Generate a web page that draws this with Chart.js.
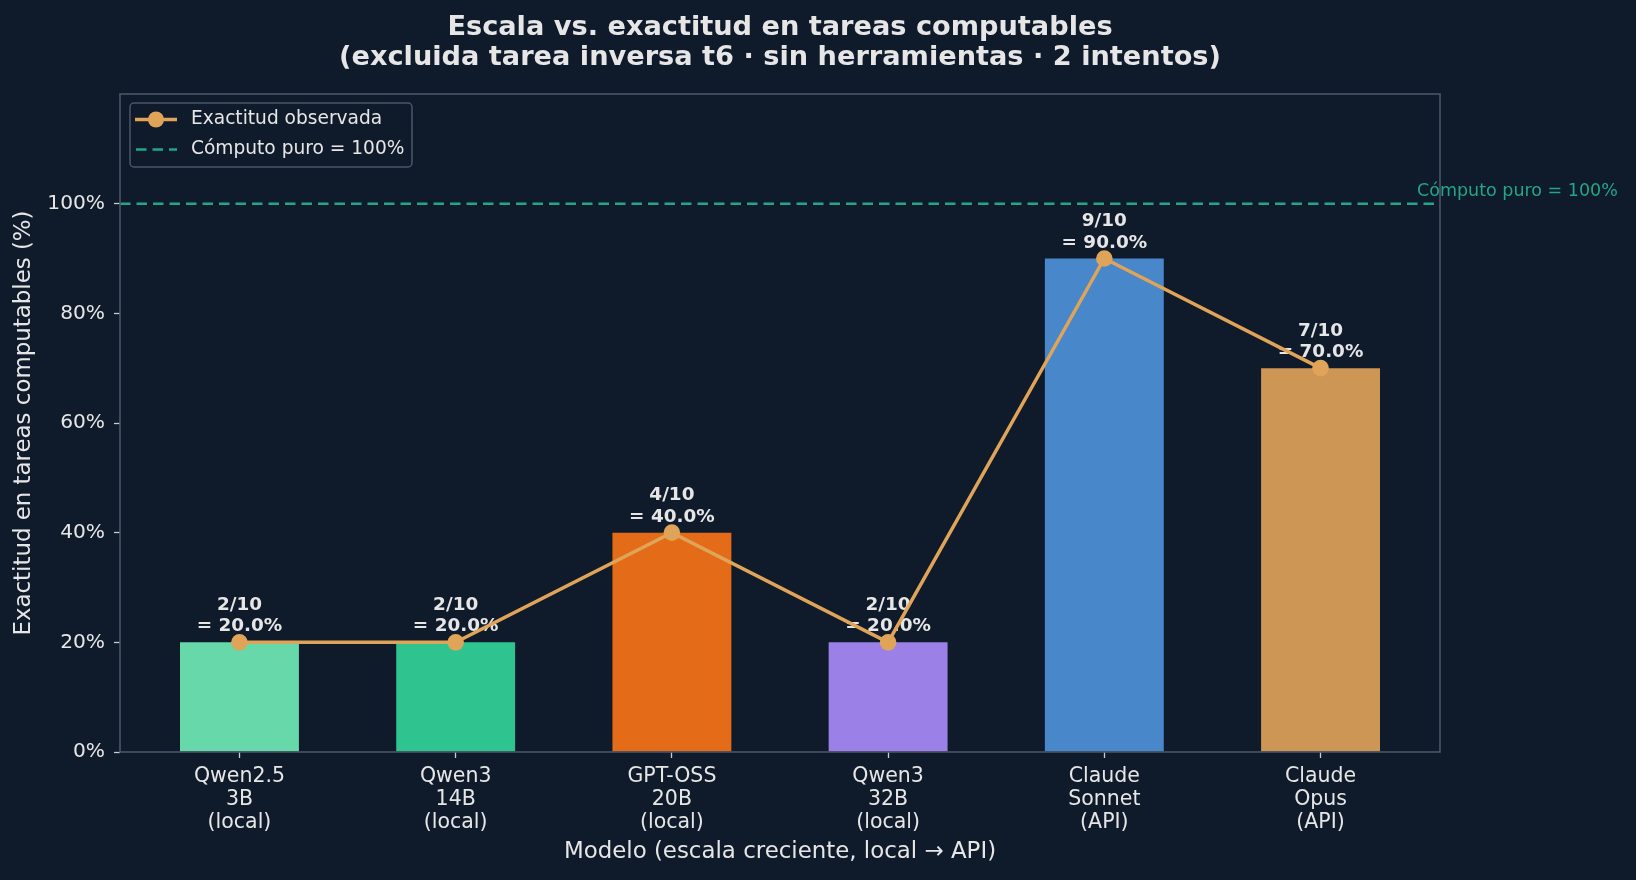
<!DOCTYPE html>
<html><head><meta charset="utf-8">
<script src="https://cdn.jsdelivr.net/npm/chart.js@4.4.1/dist/chart.umd.min.js"></script>
<style>html,body{margin:0;padding:0;background:#0f1a2b;}#wrap{width:1636px;height:880px;}</style>
</head><body><div id="wrap"><canvas id="c" width="1636" height="880"></canvas></div>
<script>
// ---- data ----
const categories = [["Qwen2.5","3B","(local)"],["Qwen3","14B","(local)"],["GPT-OSS","20B","(local)"],["Qwen3","32B","(local)"],["Claude","Sonnet","(API)"],["Claude","Opus","(API)"]];
const correctCounts = [2, 2, 4, 2, 9, 7];
const totalCounts = [10, 10, 10, 10, 10, 10];
const accuracyPct = [20, 20, 40, 20, 90, 70];
const yTickValues = [0, 20, 40, 60, 80, 100];
const referencePct = 100;
const titleLines = ["Escala vs. exactitud en tareas computables", "(excluida tarea inversa t6 · sin herramientas · 2 intentos)"];
const xAxisTitle = "Modelo (escala creciente, local → API)";
const yAxisTitle = "Exactitud en tareas computables (%)";
const lineLabel = "Exactitud observada";
const refLabel = "Cómputo puro = 100%";

// ---- style ----
const barColors = ["#66d8a9", "#2fc48f", "#e46b18", "#9b80e8", "#4787ca", "#cd9654"];
const BG = "#0f1a2b", TEXT = "#e6e6e6", SPINE = "#4b5668", LINE = "#e0a458", REF = "#22a686", TICK = "#c9cdd3";
const FONT = "'DejaVu Sans', sans-serif";
const BAR_W = 0.55;
const n = categories.length;
const xPad = 0.05 * (n - 1 + BAR_W);

const points = accuracyPct.map((v, i) => ({ x: i, y: v }));

const decor = {
  id: 'decor',
  beforeDraw(chart) {
    const c = chart.ctx;
    c.save(); c.fillStyle = BG; c.fillRect(0, 0, chart.width, chart.height); c.restore();
  },
  beforeDatasetsDraw(chart) {
    const c = chart.ctx, a = chart.chartArea, y = chart.scales.y.getPixelForValue(referencePct);
    c.save();
    c.strokeStyle = REF; c.lineWidth = 2.5; c.setLineDash([10.5, 6]);
    c.beginPath(); c.moveTo(a.left, y); c.lineTo(a.right, y); c.stroke();
    c.restore();
  },
  afterDatasetDraw(chart, args) {
    if (args.index !== 0) return;
    const c = chart.ctx, meta = chart.getDatasetMeta(0);
    c.save();
    c.fillStyle = TEXT; c.font = "bold 18.4px " + FONT; c.textAlign = 'center'; c.textBaseline = 'alphabetic';
    meta.data.forEach((el, i) => {
      c.fillText(correctCounts[i] + "/" + totalCounts[i], el.x, el.y - 32.5);
      c.fillText("= " + accuracyPct[i].toFixed(1) + "%", el.x, el.y - 11);
    });
    c.restore();
  },
  afterDraw(chart) {
    const c = chart.ctx, a = chart.chartArea;
    c.save();
    // spines
    c.strokeStyle = SPINE; c.lineWidth = 1.6;
    c.strokeRect(a.left, a.top, a.right - a.left, a.bottom - a.top);
    // reference label
    const yr = chart.scales.y.getPixelForValue(referencePct);
    c.fillStyle = REF; c.font = "17.5px " + FONT; c.textAlign = 'left'; c.textBaseline = 'alphabetic';
    c.fillText(refLabel, 1417, yr - 8);
    // title
    c.fillStyle = TEXT; c.font = "bold 27.2px " + FONT; c.textAlign = 'center';
    const cx = (a.left + a.right) / 2;
    c.fillText(titleLines[0], cx, 34.5);
    c.fillText(titleLines[1], cx, 64.5);
    // axis titles
    c.font = "22.9px " + FONT; c.textBaseline = 'middle';
    c.fillText(xAxisTitle, cx, 852);
    c.save();
    c.translate(24, (a.top + a.bottom) / 2); c.rotate(-Math.PI / 2);
    c.fillText(yAxisTitle, 0, 0);
    c.restore();
    // legend
    const lx = 130, ly = 103, lw = 282, lh = 64;
    c.beginPath(); c.roundRect(lx, ly, lw, lh, 4);
    c.fillStyle = "rgba(15,26,43,0.8)"; c.fill();
    c.strokeStyle = SPINE; c.lineWidth = 1.5; c.stroke();
    c.strokeStyle = LINE; c.lineWidth = 3.5; c.setLineDash([]);
    c.beginPath(); c.moveTo(135, 119.5); c.lineTo(177, 119.5); c.stroke();
    c.fillStyle = LINE; c.beginPath(); c.arc(156, 119.5, 8, 0, Math.PI * 2); c.fill();
    c.strokeStyle = REF; c.lineWidth = 2.5; c.setLineDash([10.5, 6]);
    c.beginPath(); c.moveTo(136, 149.5); c.lineTo(177, 149.5); c.stroke();
    c.setLineDash([]);
    c.fillStyle = TEXT; c.font = "18.6px " + FONT; c.textAlign = 'left'; c.textBaseline = 'middle';
    c.fillText(lineLabel, 191, 119.5);
    c.fillText(refLabel, 191, 149.5);
    c.restore();
  }
};

new Chart(document.getElementById('c'), {
  data: {
    datasets: [
      { type: 'bar', label: 'bars', data: points, backgroundColor: barColors, barPercentage: BAR_W, categoryPercentage: 1, order: 2 },
      { type: 'line', label: lineLabel, data: points, borderColor: LINE, borderWidth: 3.5, pointRadius: 8.3, pointBackgroundColor: LINE, pointBorderWidth: 0, order: 1, tension: 0 }
    ]
  },
  options: {
    responsive: false, devicePixelRatio: 1, animation: false,
    layout: { padding: { top: 94, right: 196, left: 0, bottom: 0 }, autoPadding: false },
    plugins: { legend: { display: false }, tooltip: { enabled: false }, title: { display: false } },
    scales: {
      x: {
        type: 'linear', offset: false, min: -BAR_W / 2 - xPad, max: n - 1 + BAR_W / 2 + xPad,
        afterBuildTicks: (axis) => { axis.ticks = categories.map((_, i) => ({ value: i })); },
        afterFit: (s) => { s.height = 128; },
        grid: { offset: false, drawOnChartArea: false, drawTicks: true, tickLength: 6, tickColor: TICK, tickWidth: 1.3 },
        border: { display: false },
        ticks: { color: TEXT, font: { family: FONT, size: 20.5, lineHeight: 1.12 }, padding: 7, maxRotation: 0, autoSkip: false,
          callback: (v) => categories[Math.round(v)] }
      },
      y: {
        type: 'linear', min: 0, max: 120,
        afterBuildTicks: (axis) => { axis.ticks = yTickValues.map(v => ({ value: v })); },
        afterFit: (s) => { s.width = 120; },
        grid: { drawOnChartArea: false, drawTicks: true, tickLength: 6, tickColor: TICK, tickWidth: 1.3 },
        border: { display: false },
        ticks: { color: TEXT, font: { family: FONT, size: 20.2 }, padding: 9, callback: (v) => v + '%' }
      }
    }
  },
  plugins: [decor]
});
</script></body></html>
